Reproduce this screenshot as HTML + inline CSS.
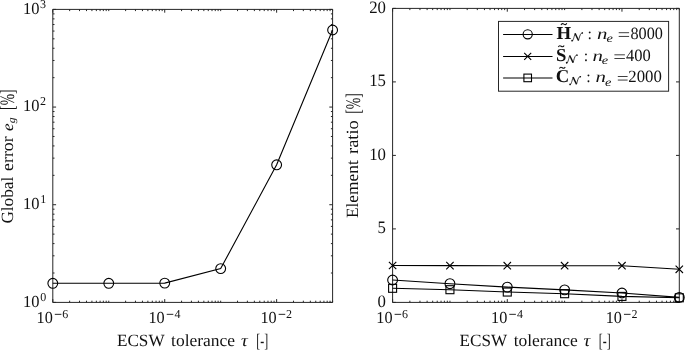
<!DOCTYPE html>
<html><head><meta charset="utf-8"><style>
html,body{margin:0;padding:0;background:#fff;}
body{width:685px;height:350px;overflow:hidden;}
svg{display:block;will-change:transform;}
svg text{font-family:"Liberation Serif",serif;text-rendering:geometricPrecision;}
</style></head><body>
<svg width="685" height="350" viewBox="0 0 685 350">
<rect width="685" height="350" fill="#fff"/>
<line x1="52.80" y1="9.40" x2="332.60" y2="9.40" stroke="#262626" stroke-width="1.0"/>
<line x1="52.80" y1="302.40" x2="332.60" y2="302.40" stroke="#262626" stroke-width="1.0"/>
<line x1="52.80" y1="9.40" x2="52.80" y2="302.40" stroke="#262626" stroke-width="1.0"/>
<line x1="332.60" y1="9.40" x2="332.60" y2="302.40" stroke="#262626" stroke-width="1.0"/>
<line x1="52.80" y1="302.40" x2="52.80" y2="299.10" stroke="#262626" stroke-width="1.0"/>
<line x1="52.80" y1="9.40" x2="52.80" y2="12.70" stroke="#262626" stroke-width="1.0"/>
<line x1="69.65" y1="302.40" x2="69.65" y2="300.70" stroke="#262626" stroke-width="1.0"/>
<line x1="69.65" y1="9.40" x2="69.65" y2="11.10" stroke="#262626" stroke-width="1.0"/>
<line x1="79.50" y1="302.40" x2="79.50" y2="300.70" stroke="#262626" stroke-width="1.0"/>
<line x1="79.50" y1="9.40" x2="79.50" y2="11.10" stroke="#262626" stroke-width="1.0"/>
<line x1="86.49" y1="302.40" x2="86.49" y2="300.70" stroke="#262626" stroke-width="1.0"/>
<line x1="86.49" y1="9.40" x2="86.49" y2="11.10" stroke="#262626" stroke-width="1.0"/>
<line x1="91.91" y1="302.40" x2="91.91" y2="300.70" stroke="#262626" stroke-width="1.0"/>
<line x1="91.91" y1="9.40" x2="91.91" y2="11.10" stroke="#262626" stroke-width="1.0"/>
<line x1="96.35" y1="302.40" x2="96.35" y2="300.70" stroke="#262626" stroke-width="1.0"/>
<line x1="96.35" y1="9.40" x2="96.35" y2="11.10" stroke="#262626" stroke-width="1.0"/>
<line x1="100.09" y1="302.40" x2="100.09" y2="300.70" stroke="#262626" stroke-width="1.0"/>
<line x1="100.09" y1="9.40" x2="100.09" y2="11.10" stroke="#262626" stroke-width="1.0"/>
<line x1="103.34" y1="302.40" x2="103.34" y2="300.70" stroke="#262626" stroke-width="1.0"/>
<line x1="103.34" y1="9.40" x2="103.34" y2="11.10" stroke="#262626" stroke-width="1.0"/>
<line x1="106.20" y1="302.40" x2="106.20" y2="300.70" stroke="#262626" stroke-width="1.0"/>
<line x1="106.20" y1="9.40" x2="106.20" y2="11.10" stroke="#262626" stroke-width="1.0"/>
<line x1="108.76" y1="302.40" x2="108.76" y2="300.70" stroke="#262626" stroke-width="1.0"/>
<line x1="108.76" y1="9.40" x2="108.76" y2="11.10" stroke="#262626" stroke-width="1.0"/>
<line x1="125.61" y1="302.40" x2="125.61" y2="300.70" stroke="#262626" stroke-width="1.0"/>
<line x1="125.61" y1="9.40" x2="125.61" y2="11.10" stroke="#262626" stroke-width="1.0"/>
<line x1="135.46" y1="302.40" x2="135.46" y2="300.70" stroke="#262626" stroke-width="1.0"/>
<line x1="135.46" y1="9.40" x2="135.46" y2="11.10" stroke="#262626" stroke-width="1.0"/>
<line x1="142.45" y1="302.40" x2="142.45" y2="300.70" stroke="#262626" stroke-width="1.0"/>
<line x1="142.45" y1="9.40" x2="142.45" y2="11.10" stroke="#262626" stroke-width="1.0"/>
<line x1="147.87" y1="302.40" x2="147.87" y2="300.70" stroke="#262626" stroke-width="1.0"/>
<line x1="147.87" y1="9.40" x2="147.87" y2="11.10" stroke="#262626" stroke-width="1.0"/>
<line x1="152.31" y1="302.40" x2="152.31" y2="300.70" stroke="#262626" stroke-width="1.0"/>
<line x1="152.31" y1="9.40" x2="152.31" y2="11.10" stroke="#262626" stroke-width="1.0"/>
<line x1="156.05" y1="302.40" x2="156.05" y2="300.70" stroke="#262626" stroke-width="1.0"/>
<line x1="156.05" y1="9.40" x2="156.05" y2="11.10" stroke="#262626" stroke-width="1.0"/>
<line x1="159.30" y1="302.40" x2="159.30" y2="300.70" stroke="#262626" stroke-width="1.0"/>
<line x1="159.30" y1="9.40" x2="159.30" y2="11.10" stroke="#262626" stroke-width="1.0"/>
<line x1="162.16" y1="302.40" x2="162.16" y2="300.70" stroke="#262626" stroke-width="1.0"/>
<line x1="162.16" y1="9.40" x2="162.16" y2="11.10" stroke="#262626" stroke-width="1.0"/>
<line x1="164.72" y1="302.40" x2="164.72" y2="299.10" stroke="#262626" stroke-width="1.0"/>
<line x1="164.72" y1="9.40" x2="164.72" y2="12.70" stroke="#262626" stroke-width="1.0"/>
<line x1="181.57" y1="302.40" x2="181.57" y2="300.70" stroke="#262626" stroke-width="1.0"/>
<line x1="181.57" y1="9.40" x2="181.57" y2="11.10" stroke="#262626" stroke-width="1.0"/>
<line x1="191.42" y1="302.40" x2="191.42" y2="300.70" stroke="#262626" stroke-width="1.0"/>
<line x1="191.42" y1="9.40" x2="191.42" y2="11.10" stroke="#262626" stroke-width="1.0"/>
<line x1="198.41" y1="302.40" x2="198.41" y2="300.70" stroke="#262626" stroke-width="1.0"/>
<line x1="198.41" y1="9.40" x2="198.41" y2="11.10" stroke="#262626" stroke-width="1.0"/>
<line x1="203.83" y1="302.40" x2="203.83" y2="300.70" stroke="#262626" stroke-width="1.0"/>
<line x1="203.83" y1="9.40" x2="203.83" y2="11.10" stroke="#262626" stroke-width="1.0"/>
<line x1="208.27" y1="302.40" x2="208.27" y2="300.70" stroke="#262626" stroke-width="1.0"/>
<line x1="208.27" y1="9.40" x2="208.27" y2="11.10" stroke="#262626" stroke-width="1.0"/>
<line x1="212.01" y1="302.40" x2="212.01" y2="300.70" stroke="#262626" stroke-width="1.0"/>
<line x1="212.01" y1="9.40" x2="212.01" y2="11.10" stroke="#262626" stroke-width="1.0"/>
<line x1="215.26" y1="302.40" x2="215.26" y2="300.70" stroke="#262626" stroke-width="1.0"/>
<line x1="215.26" y1="9.40" x2="215.26" y2="11.10" stroke="#262626" stroke-width="1.0"/>
<line x1="218.12" y1="302.40" x2="218.12" y2="300.70" stroke="#262626" stroke-width="1.0"/>
<line x1="218.12" y1="9.40" x2="218.12" y2="11.10" stroke="#262626" stroke-width="1.0"/>
<line x1="220.68" y1="302.40" x2="220.68" y2="300.70" stroke="#262626" stroke-width="1.0"/>
<line x1="220.68" y1="9.40" x2="220.68" y2="11.10" stroke="#262626" stroke-width="1.0"/>
<line x1="237.53" y1="302.40" x2="237.53" y2="300.70" stroke="#262626" stroke-width="1.0"/>
<line x1="237.53" y1="9.40" x2="237.53" y2="11.10" stroke="#262626" stroke-width="1.0"/>
<line x1="247.38" y1="302.40" x2="247.38" y2="300.70" stroke="#262626" stroke-width="1.0"/>
<line x1="247.38" y1="9.40" x2="247.38" y2="11.10" stroke="#262626" stroke-width="1.0"/>
<line x1="254.37" y1="302.40" x2="254.37" y2="300.70" stroke="#262626" stroke-width="1.0"/>
<line x1="254.37" y1="9.40" x2="254.37" y2="11.10" stroke="#262626" stroke-width="1.0"/>
<line x1="259.79" y1="302.40" x2="259.79" y2="300.70" stroke="#262626" stroke-width="1.0"/>
<line x1="259.79" y1="9.40" x2="259.79" y2="11.10" stroke="#262626" stroke-width="1.0"/>
<line x1="264.23" y1="302.40" x2="264.23" y2="300.70" stroke="#262626" stroke-width="1.0"/>
<line x1="264.23" y1="9.40" x2="264.23" y2="11.10" stroke="#262626" stroke-width="1.0"/>
<line x1="267.97" y1="302.40" x2="267.97" y2="300.70" stroke="#262626" stroke-width="1.0"/>
<line x1="267.97" y1="9.40" x2="267.97" y2="11.10" stroke="#262626" stroke-width="1.0"/>
<line x1="271.22" y1="302.40" x2="271.22" y2="300.70" stroke="#262626" stroke-width="1.0"/>
<line x1="271.22" y1="9.40" x2="271.22" y2="11.10" stroke="#262626" stroke-width="1.0"/>
<line x1="274.08" y1="302.40" x2="274.08" y2="300.70" stroke="#262626" stroke-width="1.0"/>
<line x1="274.08" y1="9.40" x2="274.08" y2="11.10" stroke="#262626" stroke-width="1.0"/>
<line x1="276.64" y1="302.40" x2="276.64" y2="299.10" stroke="#262626" stroke-width="1.0"/>
<line x1="276.64" y1="9.40" x2="276.64" y2="12.70" stroke="#262626" stroke-width="1.0"/>
<line x1="293.49" y1="302.40" x2="293.49" y2="300.70" stroke="#262626" stroke-width="1.0"/>
<line x1="293.49" y1="9.40" x2="293.49" y2="11.10" stroke="#262626" stroke-width="1.0"/>
<line x1="303.34" y1="302.40" x2="303.34" y2="300.70" stroke="#262626" stroke-width="1.0"/>
<line x1="303.34" y1="9.40" x2="303.34" y2="11.10" stroke="#262626" stroke-width="1.0"/>
<line x1="310.33" y1="302.40" x2="310.33" y2="300.70" stroke="#262626" stroke-width="1.0"/>
<line x1="310.33" y1="9.40" x2="310.33" y2="11.10" stroke="#262626" stroke-width="1.0"/>
<line x1="315.75" y1="302.40" x2="315.75" y2="300.70" stroke="#262626" stroke-width="1.0"/>
<line x1="315.75" y1="9.40" x2="315.75" y2="11.10" stroke="#262626" stroke-width="1.0"/>
<line x1="320.19" y1="302.40" x2="320.19" y2="300.70" stroke="#262626" stroke-width="1.0"/>
<line x1="320.19" y1="9.40" x2="320.19" y2="11.10" stroke="#262626" stroke-width="1.0"/>
<line x1="323.93" y1="302.40" x2="323.93" y2="300.70" stroke="#262626" stroke-width="1.0"/>
<line x1="323.93" y1="9.40" x2="323.93" y2="11.10" stroke="#262626" stroke-width="1.0"/>
<line x1="327.18" y1="302.40" x2="327.18" y2="300.70" stroke="#262626" stroke-width="1.0"/>
<line x1="327.18" y1="9.40" x2="327.18" y2="11.10" stroke="#262626" stroke-width="1.0"/>
<line x1="330.04" y1="302.40" x2="330.04" y2="300.70" stroke="#262626" stroke-width="1.0"/>
<line x1="330.04" y1="9.40" x2="330.04" y2="11.10" stroke="#262626" stroke-width="1.0"/>
<line x1="332.60" y1="302.40" x2="332.60" y2="300.70" stroke="#262626" stroke-width="1.0"/>
<line x1="332.60" y1="9.40" x2="332.60" y2="11.10" stroke="#262626" stroke-width="1.0"/>
<line x1="52.80" y1="302.40" x2="56.10" y2="302.40" stroke="#262626" stroke-width="1.0"/>
<line x1="332.60" y1="302.40" x2="329.30" y2="302.40" stroke="#262626" stroke-width="1.0"/>
<line x1="52.80" y1="273.00" x2="54.50" y2="273.00" stroke="#262626" stroke-width="1.0"/>
<line x1="332.60" y1="273.00" x2="330.90" y2="273.00" stroke="#262626" stroke-width="1.0"/>
<line x1="52.80" y1="255.80" x2="54.50" y2="255.80" stroke="#262626" stroke-width="1.0"/>
<line x1="332.60" y1="255.80" x2="330.90" y2="255.80" stroke="#262626" stroke-width="1.0"/>
<line x1="52.80" y1="243.60" x2="54.50" y2="243.60" stroke="#262626" stroke-width="1.0"/>
<line x1="332.60" y1="243.60" x2="330.90" y2="243.60" stroke="#262626" stroke-width="1.0"/>
<line x1="52.80" y1="234.13" x2="54.50" y2="234.13" stroke="#262626" stroke-width="1.0"/>
<line x1="332.60" y1="234.13" x2="330.90" y2="234.13" stroke="#262626" stroke-width="1.0"/>
<line x1="52.80" y1="226.40" x2="54.50" y2="226.40" stroke="#262626" stroke-width="1.0"/>
<line x1="332.60" y1="226.40" x2="330.90" y2="226.40" stroke="#262626" stroke-width="1.0"/>
<line x1="52.80" y1="219.86" x2="54.50" y2="219.86" stroke="#262626" stroke-width="1.0"/>
<line x1="332.60" y1="219.86" x2="330.90" y2="219.86" stroke="#262626" stroke-width="1.0"/>
<line x1="52.80" y1="214.20" x2="54.50" y2="214.20" stroke="#262626" stroke-width="1.0"/>
<line x1="332.60" y1="214.20" x2="330.90" y2="214.20" stroke="#262626" stroke-width="1.0"/>
<line x1="52.80" y1="209.20" x2="54.50" y2="209.20" stroke="#262626" stroke-width="1.0"/>
<line x1="332.60" y1="209.20" x2="330.90" y2="209.20" stroke="#262626" stroke-width="1.0"/>
<line x1="52.80" y1="204.73" x2="56.10" y2="204.73" stroke="#262626" stroke-width="1.0"/>
<line x1="332.60" y1="204.73" x2="329.30" y2="204.73" stroke="#262626" stroke-width="1.0"/>
<line x1="52.80" y1="175.33" x2="54.50" y2="175.33" stroke="#262626" stroke-width="1.0"/>
<line x1="332.60" y1="175.33" x2="330.90" y2="175.33" stroke="#262626" stroke-width="1.0"/>
<line x1="52.80" y1="158.13" x2="54.50" y2="158.13" stroke="#262626" stroke-width="1.0"/>
<line x1="332.60" y1="158.13" x2="330.90" y2="158.13" stroke="#262626" stroke-width="1.0"/>
<line x1="52.80" y1="145.93" x2="54.50" y2="145.93" stroke="#262626" stroke-width="1.0"/>
<line x1="332.60" y1="145.93" x2="330.90" y2="145.93" stroke="#262626" stroke-width="1.0"/>
<line x1="52.80" y1="136.47" x2="54.50" y2="136.47" stroke="#262626" stroke-width="1.0"/>
<line x1="332.60" y1="136.47" x2="330.90" y2="136.47" stroke="#262626" stroke-width="1.0"/>
<line x1="52.80" y1="128.73" x2="54.50" y2="128.73" stroke="#262626" stroke-width="1.0"/>
<line x1="332.60" y1="128.73" x2="330.90" y2="128.73" stroke="#262626" stroke-width="1.0"/>
<line x1="52.80" y1="122.20" x2="54.50" y2="122.20" stroke="#262626" stroke-width="1.0"/>
<line x1="332.60" y1="122.20" x2="330.90" y2="122.20" stroke="#262626" stroke-width="1.0"/>
<line x1="52.80" y1="116.53" x2="54.50" y2="116.53" stroke="#262626" stroke-width="1.0"/>
<line x1="332.60" y1="116.53" x2="330.90" y2="116.53" stroke="#262626" stroke-width="1.0"/>
<line x1="52.80" y1="111.54" x2="54.50" y2="111.54" stroke="#262626" stroke-width="1.0"/>
<line x1="332.60" y1="111.54" x2="330.90" y2="111.54" stroke="#262626" stroke-width="1.0"/>
<line x1="52.80" y1="107.07" x2="56.10" y2="107.07" stroke="#262626" stroke-width="1.0"/>
<line x1="332.60" y1="107.07" x2="329.30" y2="107.07" stroke="#262626" stroke-width="1.0"/>
<line x1="52.80" y1="77.67" x2="54.50" y2="77.67" stroke="#262626" stroke-width="1.0"/>
<line x1="332.60" y1="77.67" x2="330.90" y2="77.67" stroke="#262626" stroke-width="1.0"/>
<line x1="52.80" y1="60.47" x2="54.50" y2="60.47" stroke="#262626" stroke-width="1.0"/>
<line x1="332.60" y1="60.47" x2="330.90" y2="60.47" stroke="#262626" stroke-width="1.0"/>
<line x1="52.80" y1="48.27" x2="54.50" y2="48.27" stroke="#262626" stroke-width="1.0"/>
<line x1="332.60" y1="48.27" x2="330.90" y2="48.27" stroke="#262626" stroke-width="1.0"/>
<line x1="52.80" y1="38.80" x2="54.50" y2="38.80" stroke="#262626" stroke-width="1.0"/>
<line x1="332.60" y1="38.80" x2="330.90" y2="38.80" stroke="#262626" stroke-width="1.0"/>
<line x1="52.80" y1="31.07" x2="54.50" y2="31.07" stroke="#262626" stroke-width="1.0"/>
<line x1="332.60" y1="31.07" x2="330.90" y2="31.07" stroke="#262626" stroke-width="1.0"/>
<line x1="52.80" y1="24.53" x2="54.50" y2="24.53" stroke="#262626" stroke-width="1.0"/>
<line x1="332.60" y1="24.53" x2="330.90" y2="24.53" stroke="#262626" stroke-width="1.0"/>
<line x1="52.80" y1="18.86" x2="54.50" y2="18.86" stroke="#262626" stroke-width="1.0"/>
<line x1="332.60" y1="18.86" x2="330.90" y2="18.86" stroke="#262626" stroke-width="1.0"/>
<line x1="52.80" y1="13.87" x2="54.50" y2="13.87" stroke="#262626" stroke-width="1.0"/>
<line x1="332.60" y1="13.87" x2="330.90" y2="13.87" stroke="#262626" stroke-width="1.0"/>
<line x1="52.80" y1="9.40" x2="56.10" y2="9.40" stroke="#262626" stroke-width="1.0"/>
<line x1="332.60" y1="9.40" x2="329.30" y2="9.40" stroke="#262626" stroke-width="1.0"/>
<polyline points="52.80,283.30 108.76,283.30 164.72,283.10 220.68,268.60 276.64,164.80 332.60,30.00" fill="none" stroke="#000" stroke-width="1.1"/>
<circle cx="52.80" cy="283.30" r="4.9" fill="none" stroke="#000" stroke-width="1.1"/>
<circle cx="108.76" cy="283.30" r="4.9" fill="none" stroke="#000" stroke-width="1.1"/>
<circle cx="164.72" cy="283.10" r="4.9" fill="none" stroke="#000" stroke-width="1.1"/>
<circle cx="220.68" cy="268.60" r="4.9" fill="none" stroke="#000" stroke-width="1.1"/>
<circle cx="276.64" cy="164.80" r="4.9" fill="none" stroke="#000" stroke-width="1.1"/>
<circle cx="332.60" cy="30.00" r="4.9" fill="none" stroke="#000" stroke-width="1.1"/>
<line x1="392.60" y1="8.40" x2="679.30" y2="8.40" stroke="#262626" stroke-width="1.0"/>
<line x1="392.60" y1="302.40" x2="679.30" y2="302.40" stroke="#262626" stroke-width="1.0"/>
<line x1="392.60" y1="8.40" x2="392.60" y2="302.40" stroke="#262626" stroke-width="1.0"/>
<line x1="679.30" y1="8.40" x2="679.30" y2="302.40" stroke="#262626" stroke-width="1.0"/>
<line x1="392.60" y1="302.40" x2="392.60" y2="299.10" stroke="#262626" stroke-width="1.0"/>
<line x1="392.60" y1="8.40" x2="392.60" y2="11.70" stroke="#262626" stroke-width="1.0"/>
<line x1="409.86" y1="302.40" x2="409.86" y2="300.70" stroke="#262626" stroke-width="1.0"/>
<line x1="409.86" y1="8.40" x2="409.86" y2="10.10" stroke="#262626" stroke-width="1.0"/>
<line x1="419.96" y1="302.40" x2="419.96" y2="300.70" stroke="#262626" stroke-width="1.0"/>
<line x1="419.96" y1="8.40" x2="419.96" y2="10.10" stroke="#262626" stroke-width="1.0"/>
<line x1="427.12" y1="302.40" x2="427.12" y2="300.70" stroke="#262626" stroke-width="1.0"/>
<line x1="427.12" y1="8.40" x2="427.12" y2="10.10" stroke="#262626" stroke-width="1.0"/>
<line x1="432.68" y1="302.40" x2="432.68" y2="300.70" stroke="#262626" stroke-width="1.0"/>
<line x1="432.68" y1="8.40" x2="432.68" y2="10.10" stroke="#262626" stroke-width="1.0"/>
<line x1="437.22" y1="302.40" x2="437.22" y2="300.70" stroke="#262626" stroke-width="1.0"/>
<line x1="437.22" y1="8.40" x2="437.22" y2="10.10" stroke="#262626" stroke-width="1.0"/>
<line x1="441.06" y1="302.40" x2="441.06" y2="300.70" stroke="#262626" stroke-width="1.0"/>
<line x1="441.06" y1="8.40" x2="441.06" y2="10.10" stroke="#262626" stroke-width="1.0"/>
<line x1="444.38" y1="302.40" x2="444.38" y2="300.70" stroke="#262626" stroke-width="1.0"/>
<line x1="444.38" y1="8.40" x2="444.38" y2="10.10" stroke="#262626" stroke-width="1.0"/>
<line x1="447.32" y1="302.40" x2="447.32" y2="300.70" stroke="#262626" stroke-width="1.0"/>
<line x1="447.32" y1="8.40" x2="447.32" y2="10.10" stroke="#262626" stroke-width="1.0"/>
<line x1="449.94" y1="302.40" x2="449.94" y2="300.70" stroke="#262626" stroke-width="1.0"/>
<line x1="449.94" y1="8.40" x2="449.94" y2="10.10" stroke="#262626" stroke-width="1.0"/>
<line x1="467.20" y1="302.40" x2="467.20" y2="300.70" stroke="#262626" stroke-width="1.0"/>
<line x1="467.20" y1="8.40" x2="467.20" y2="10.10" stroke="#262626" stroke-width="1.0"/>
<line x1="477.30" y1="302.40" x2="477.30" y2="300.70" stroke="#262626" stroke-width="1.0"/>
<line x1="477.30" y1="8.40" x2="477.30" y2="10.10" stroke="#262626" stroke-width="1.0"/>
<line x1="484.46" y1="302.40" x2="484.46" y2="300.70" stroke="#262626" stroke-width="1.0"/>
<line x1="484.46" y1="8.40" x2="484.46" y2="10.10" stroke="#262626" stroke-width="1.0"/>
<line x1="490.02" y1="302.40" x2="490.02" y2="300.70" stroke="#262626" stroke-width="1.0"/>
<line x1="490.02" y1="8.40" x2="490.02" y2="10.10" stroke="#262626" stroke-width="1.0"/>
<line x1="494.56" y1="302.40" x2="494.56" y2="300.70" stroke="#262626" stroke-width="1.0"/>
<line x1="494.56" y1="8.40" x2="494.56" y2="10.10" stroke="#262626" stroke-width="1.0"/>
<line x1="498.40" y1="302.40" x2="498.40" y2="300.70" stroke="#262626" stroke-width="1.0"/>
<line x1="498.40" y1="8.40" x2="498.40" y2="10.10" stroke="#262626" stroke-width="1.0"/>
<line x1="501.72" y1="302.40" x2="501.72" y2="300.70" stroke="#262626" stroke-width="1.0"/>
<line x1="501.72" y1="8.40" x2="501.72" y2="10.10" stroke="#262626" stroke-width="1.0"/>
<line x1="504.66" y1="302.40" x2="504.66" y2="300.70" stroke="#262626" stroke-width="1.0"/>
<line x1="504.66" y1="8.40" x2="504.66" y2="10.10" stroke="#262626" stroke-width="1.0"/>
<line x1="507.28" y1="302.40" x2="507.28" y2="299.10" stroke="#262626" stroke-width="1.0"/>
<line x1="507.28" y1="8.40" x2="507.28" y2="11.70" stroke="#262626" stroke-width="1.0"/>
<line x1="524.54" y1="302.40" x2="524.54" y2="300.70" stroke="#262626" stroke-width="1.0"/>
<line x1="524.54" y1="8.40" x2="524.54" y2="10.10" stroke="#262626" stroke-width="1.0"/>
<line x1="534.64" y1="302.40" x2="534.64" y2="300.70" stroke="#262626" stroke-width="1.0"/>
<line x1="534.64" y1="8.40" x2="534.64" y2="10.10" stroke="#262626" stroke-width="1.0"/>
<line x1="541.80" y1="302.40" x2="541.80" y2="300.70" stroke="#262626" stroke-width="1.0"/>
<line x1="541.80" y1="8.40" x2="541.80" y2="10.10" stroke="#262626" stroke-width="1.0"/>
<line x1="547.36" y1="302.40" x2="547.36" y2="300.70" stroke="#262626" stroke-width="1.0"/>
<line x1="547.36" y1="8.40" x2="547.36" y2="10.10" stroke="#262626" stroke-width="1.0"/>
<line x1="551.90" y1="302.40" x2="551.90" y2="300.70" stroke="#262626" stroke-width="1.0"/>
<line x1="551.90" y1="8.40" x2="551.90" y2="10.10" stroke="#262626" stroke-width="1.0"/>
<line x1="555.74" y1="302.40" x2="555.74" y2="300.70" stroke="#262626" stroke-width="1.0"/>
<line x1="555.74" y1="8.40" x2="555.74" y2="10.10" stroke="#262626" stroke-width="1.0"/>
<line x1="559.06" y1="302.40" x2="559.06" y2="300.70" stroke="#262626" stroke-width="1.0"/>
<line x1="559.06" y1="8.40" x2="559.06" y2="10.10" stroke="#262626" stroke-width="1.0"/>
<line x1="562.00" y1="302.40" x2="562.00" y2="300.70" stroke="#262626" stroke-width="1.0"/>
<line x1="562.00" y1="8.40" x2="562.00" y2="10.10" stroke="#262626" stroke-width="1.0"/>
<line x1="564.62" y1="302.40" x2="564.62" y2="300.70" stroke="#262626" stroke-width="1.0"/>
<line x1="564.62" y1="8.40" x2="564.62" y2="10.10" stroke="#262626" stroke-width="1.0"/>
<line x1="581.88" y1="302.40" x2="581.88" y2="300.70" stroke="#262626" stroke-width="1.0"/>
<line x1="581.88" y1="8.40" x2="581.88" y2="10.10" stroke="#262626" stroke-width="1.0"/>
<line x1="591.98" y1="302.40" x2="591.98" y2="300.70" stroke="#262626" stroke-width="1.0"/>
<line x1="591.98" y1="8.40" x2="591.98" y2="10.10" stroke="#262626" stroke-width="1.0"/>
<line x1="599.14" y1="302.40" x2="599.14" y2="300.70" stroke="#262626" stroke-width="1.0"/>
<line x1="599.14" y1="8.40" x2="599.14" y2="10.10" stroke="#262626" stroke-width="1.0"/>
<line x1="604.70" y1="302.40" x2="604.70" y2="300.70" stroke="#262626" stroke-width="1.0"/>
<line x1="604.70" y1="8.40" x2="604.70" y2="10.10" stroke="#262626" stroke-width="1.0"/>
<line x1="609.24" y1="302.40" x2="609.24" y2="300.70" stroke="#262626" stroke-width="1.0"/>
<line x1="609.24" y1="8.40" x2="609.24" y2="10.10" stroke="#262626" stroke-width="1.0"/>
<line x1="613.08" y1="302.40" x2="613.08" y2="300.70" stroke="#262626" stroke-width="1.0"/>
<line x1="613.08" y1="8.40" x2="613.08" y2="10.10" stroke="#262626" stroke-width="1.0"/>
<line x1="616.40" y1="302.40" x2="616.40" y2="300.70" stroke="#262626" stroke-width="1.0"/>
<line x1="616.40" y1="8.40" x2="616.40" y2="10.10" stroke="#262626" stroke-width="1.0"/>
<line x1="619.34" y1="302.40" x2="619.34" y2="300.70" stroke="#262626" stroke-width="1.0"/>
<line x1="619.34" y1="8.40" x2="619.34" y2="10.10" stroke="#262626" stroke-width="1.0"/>
<line x1="621.96" y1="302.40" x2="621.96" y2="299.10" stroke="#262626" stroke-width="1.0"/>
<line x1="621.96" y1="8.40" x2="621.96" y2="11.70" stroke="#262626" stroke-width="1.0"/>
<line x1="639.22" y1="302.40" x2="639.22" y2="300.70" stroke="#262626" stroke-width="1.0"/>
<line x1="639.22" y1="8.40" x2="639.22" y2="10.10" stroke="#262626" stroke-width="1.0"/>
<line x1="649.32" y1="302.40" x2="649.32" y2="300.70" stroke="#262626" stroke-width="1.0"/>
<line x1="649.32" y1="8.40" x2="649.32" y2="10.10" stroke="#262626" stroke-width="1.0"/>
<line x1="656.48" y1="302.40" x2="656.48" y2="300.70" stroke="#262626" stroke-width="1.0"/>
<line x1="656.48" y1="8.40" x2="656.48" y2="10.10" stroke="#262626" stroke-width="1.0"/>
<line x1="662.04" y1="302.40" x2="662.04" y2="300.70" stroke="#262626" stroke-width="1.0"/>
<line x1="662.04" y1="8.40" x2="662.04" y2="10.10" stroke="#262626" stroke-width="1.0"/>
<line x1="666.58" y1="302.40" x2="666.58" y2="300.70" stroke="#262626" stroke-width="1.0"/>
<line x1="666.58" y1="8.40" x2="666.58" y2="10.10" stroke="#262626" stroke-width="1.0"/>
<line x1="670.42" y1="302.40" x2="670.42" y2="300.70" stroke="#262626" stroke-width="1.0"/>
<line x1="670.42" y1="8.40" x2="670.42" y2="10.10" stroke="#262626" stroke-width="1.0"/>
<line x1="673.74" y1="302.40" x2="673.74" y2="300.70" stroke="#262626" stroke-width="1.0"/>
<line x1="673.74" y1="8.40" x2="673.74" y2="10.10" stroke="#262626" stroke-width="1.0"/>
<line x1="676.68" y1="302.40" x2="676.68" y2="300.70" stroke="#262626" stroke-width="1.0"/>
<line x1="676.68" y1="8.40" x2="676.68" y2="10.10" stroke="#262626" stroke-width="1.0"/>
<line x1="679.30" y1="302.40" x2="679.30" y2="300.70" stroke="#262626" stroke-width="1.0"/>
<line x1="679.30" y1="8.40" x2="679.30" y2="10.10" stroke="#262626" stroke-width="1.0"/>
<line x1="392.60" y1="302.40" x2="395.90" y2="302.40" stroke="#262626" stroke-width="1.0"/>
<line x1="679.30" y1="302.40" x2="676.00" y2="302.40" stroke="#262626" stroke-width="1.0"/>
<line x1="392.60" y1="228.90" x2="395.90" y2="228.90" stroke="#262626" stroke-width="1.0"/>
<line x1="679.30" y1="228.90" x2="676.00" y2="228.90" stroke="#262626" stroke-width="1.0"/>
<line x1="392.60" y1="155.40" x2="395.90" y2="155.40" stroke="#262626" stroke-width="1.0"/>
<line x1="679.30" y1="155.40" x2="676.00" y2="155.40" stroke="#262626" stroke-width="1.0"/>
<line x1="392.60" y1="81.90" x2="395.90" y2="81.90" stroke="#262626" stroke-width="1.0"/>
<line x1="679.30" y1="81.90" x2="676.00" y2="81.90" stroke="#262626" stroke-width="1.0"/>
<line x1="392.60" y1="8.40" x2="395.90" y2="8.40" stroke="#262626" stroke-width="1.0"/>
<line x1="679.30" y1="8.40" x2="676.00" y2="8.40" stroke="#262626" stroke-width="1.0"/>
<polyline points="392.60,280.00 449.94,283.70 507.28,287.10 564.62,289.85 621.96,293.00 679.30,297.40" fill="none" stroke="#000" stroke-width="1.1"/>
<circle cx="392.60" cy="280.00" r="4.9" fill="none" stroke="#000" stroke-width="1.1"/>
<circle cx="449.94" cy="283.70" r="4.9" fill="none" stroke="#000" stroke-width="1.1"/>
<circle cx="507.28" cy="287.10" r="4.9" fill="none" stroke="#000" stroke-width="1.1"/>
<circle cx="564.62" cy="289.85" r="4.9" fill="none" stroke="#000" stroke-width="1.1"/>
<circle cx="621.96" cy="293.00" r="4.9" fill="none" stroke="#000" stroke-width="1.1"/>
<circle cx="679.30" cy="297.40" r="4.9" fill="none" stroke="#000" stroke-width="1.1"/>
<polyline points="392.60,265.50 449.94,265.60 507.28,265.70 564.62,265.70 621.96,265.70 679.30,269.30" fill="none" stroke="#000" stroke-width="1.1"/>
<path d="M388.90,261.80L396.30,269.20M388.90,269.20L396.30,261.80" stroke="#000" stroke-width="1.1"/>
<path d="M446.24,261.90L453.64,269.30M446.24,269.30L453.64,261.90" stroke="#000" stroke-width="1.1"/>
<path d="M503.58,262.00L510.98,269.40M503.58,269.40L510.98,262.00" stroke="#000" stroke-width="1.1"/>
<path d="M560.92,262.00L568.32,269.40M560.92,269.40L568.32,262.00" stroke="#000" stroke-width="1.1"/>
<path d="M618.26,262.00L625.66,269.40M618.26,269.40L625.66,262.00" stroke="#000" stroke-width="1.1"/>
<path d="M675.60,265.60L683.00,273.00M675.60,273.00L683.00,265.60" stroke="#000" stroke-width="1.1"/>
<polyline points="392.60,288.30 449.94,289.70 507.28,292.05 564.62,293.70 621.96,296.40 679.30,297.80" fill="none" stroke="#000" stroke-width="1.1"/>
<rect x="388.60" y="284.30" width="8.00" height="8.00" fill="none" stroke="#000" stroke-width="1.1"/>
<rect x="445.94" y="285.70" width="8.00" height="8.00" fill="none" stroke="#000" stroke-width="1.1"/>
<rect x="503.28" y="288.05" width="8.00" height="8.00" fill="none" stroke="#000" stroke-width="1.1"/>
<rect x="560.62" y="289.70" width="8.00" height="8.00" fill="none" stroke="#000" stroke-width="1.1"/>
<rect x="617.96" y="292.40" width="8.00" height="8.00" fill="none" stroke="#000" stroke-width="1.1"/>
<rect x="675.30" y="293.80" width="8.00" height="8.00" fill="none" stroke="#000" stroke-width="1.1"/>
<rect x="498.5" y="21.4" width="170.10" height="69.80" fill="#fff" stroke="#262626" stroke-width="1"/>
<line x1="503.10" y1="34.50" x2="552.50" y2="34.50" stroke="#000" stroke-width="1.1"/>
<line x1="503.10" y1="56.50" x2="552.50" y2="56.50" stroke="#000" stroke-width="1.1"/>
<line x1="503.10" y1="78.00" x2="552.50" y2="78.00" stroke="#000" stroke-width="1.1"/>
<circle cx="527.70" cy="34.30" r="4.6" fill="none" stroke="#000" stroke-width="1.1"/>
<path d="M524.20,52.80L531.20,59.80M524.20,59.80L531.20,52.80" stroke="#000" stroke-width="1.1"/>
<rect x="523.90" y="74.10" width="7.60" height="7.60" fill="none" stroke="#000" stroke-width="1.1"/>
<rect x="54.80" y="313.85" width="6.60" height="0.90" fill="#111"/>
<rect x="166.72" y="313.85" width="6.60" height="0.90" fill="#111"/>
<rect x="278.64" y="313.85" width="6.60" height="0.90" fill="#111"/>
<rect x="394.60" y="313.85" width="6.60" height="0.90" fill="#111"/>
<rect x="509.28" y="313.85" width="6.60" height="0.90" fill="#111"/>
<rect x="623.96" y="313.85" width="6.60" height="0.90" fill="#111"/>
<path d="M561.00,24.90 C562.00,23.10 563.00,23.50 563.90,24.10 C564.80,24.70 565.80,25.10 566.80,23.30" fill="none" stroke="#111" stroke-width="1.1"/>
<circle cx="572.10" cy="40.60" r="0.85" fill="#111"/>
<path d="M571.80,41.10 C573.20,41.20 573.80,37.60 575.10,33.40" fill="none" stroke="#111" stroke-width="0.75"/>
<path d="M575.10,33.40 L578.50,40.50" fill="none" stroke="#111" stroke-width="1.45"/>
<path d="M578.50,40.60 C579.30,37.40 580.20,34.20 581.20,33.40 C581.70,32.90 582.30,32.70 582.80,32.90" fill="none" stroke="#111" stroke-width="0.8"/>
<circle cx="582.40" cy="33.10" r="0.75" fill="#111"/>
<rect x="618.70" y="32.35" width="10.40" height="0.80" fill="#111"/>
<rect x="618.70" y="35.95" width="10.40" height="0.80" fill="#111"/>
<path d="M558.30,47.00 C559.30,45.20 560.30,45.60 561.20,46.20 C562.10,46.80 563.10,47.20 564.10,45.40" fill="none" stroke="#111" stroke-width="1.1"/>
<circle cx="566.70" cy="62.70" r="0.85" fill="#111"/>
<path d="M566.40,63.20 C567.80,63.30 568.40,59.70 569.70,55.50" fill="none" stroke="#111" stroke-width="0.75"/>
<path d="M569.70,55.50 L573.10,62.60" fill="none" stroke="#111" stroke-width="1.45"/>
<path d="M573.10,62.70 C573.90,59.50 574.80,56.30 575.80,55.50 C576.30,55.00 576.90,54.80 577.40,55.00" fill="none" stroke="#111" stroke-width="0.8"/>
<circle cx="577.00" cy="55.20" r="0.75" fill="#111"/>
<rect x="614.40" y="54.45" width="10.50" height="0.80" fill="#111"/>
<rect x="614.40" y="58.05" width="10.50" height="0.80" fill="#111"/>
<path d="M559.40,68.60 C560.40,66.80 561.40,67.20 562.30,67.80 C563.20,68.40 564.20,68.80 565.20,67.00" fill="none" stroke="#111" stroke-width="1.1"/>
<circle cx="570.10" cy="84.30" r="0.85" fill="#111"/>
<path d="M569.80,84.80 C571.20,84.90 571.80,81.30 573.10,77.10" fill="none" stroke="#111" stroke-width="0.75"/>
<path d="M573.10,77.10 L576.50,84.20" fill="none" stroke="#111" stroke-width="1.45"/>
<path d="M576.50,84.30 C577.30,81.10 578.20,77.90 579.20,77.10 C579.70,76.60 580.30,76.40 580.80,76.60" fill="none" stroke="#111" stroke-width="0.8"/>
<circle cx="580.40" cy="76.80" r="0.75" fill="#111"/>
<rect x="617.80" y="76.05" width="9.80" height="0.80" fill="#111"/>
<rect x="617.80" y="79.65" width="9.80" height="0.80" fill="#111"/>
<text transform="translate(23.05,13.70) scale(0.9807,1.0)" font-size="16.8" fill="#111">10</text>
<text transform="translate(40.03,7.70) scale(1.0000,1.0)" font-size="12.0" fill="#111">3</text>
<text transform="translate(23.05,111.37) scale(0.9807,1.0)" font-size="16.8" fill="#111">10</text>
<text transform="translate(40.07,105.37) scale(1.0000,1.0)" font-size="12.0" fill="#111">2</text>
<text transform="translate(23.05,209.03) scale(0.9807,1.0)" font-size="16.8" fill="#111">10</text>
<text transform="translate(40.25,203.03) scale(1.0000,1.0)" font-size="12.0" fill="#111">1</text>
<text transform="translate(23.05,306.70) scale(0.9807,1.0)" font-size="16.8" fill="#111">10</text>
<text transform="translate(40.14,300.70) scale(1.0000,1.0)" font-size="12.0" fill="#111">0</text>
<text transform="translate(36.57,322.80) scale(0.9671,1.0)" font-size="16.8" fill="#111">10</text>
<text transform="translate(62.28,317.60) scale(1.0000,1.0)" font-size="12.0" fill="#111">6</text>
<text transform="translate(148.49,322.80) scale(0.9671,1.0)" font-size="16.8" fill="#111">10</text>
<text transform="translate(174.49,317.60) scale(1.0000,1.0)" font-size="12.0" fill="#111">4</text>
<text transform="translate(260.41,322.80) scale(0.9671,1.0)" font-size="16.8" fill="#111">10</text>
<text transform="translate(286.11,317.60) scale(1.0000,1.0)" font-size="12.0" fill="#111">2</text>
<text transform="translate(376.37,322.80) scale(0.9671,1.0)" font-size="16.8" fill="#111">10</text>
<text transform="translate(402.08,317.60) scale(1.0000,1.0)" font-size="12.0" fill="#111">6</text>
<text transform="translate(491.05,322.80) scale(0.9671,1.0)" font-size="16.8" fill="#111">10</text>
<text transform="translate(517.05,317.60) scale(1.0000,1.0)" font-size="12.0" fill="#111">4</text>
<text transform="translate(605.73,322.80) scale(0.9671,1.0)" font-size="16.8" fill="#111">10</text>
<text transform="translate(631.43,317.60) scale(1.0000,1.0)" font-size="12.0" fill="#111">2</text>
<text transform="translate(377.54,306.60) scale(1.0000,1.04)" font-size="16.8" fill="#111">0</text>
<text transform="translate(377.56,233.10) scale(1.0000,1.04)" font-size="16.8" fill="#111">5</text>
<text transform="translate(369.14,159.60) scale(1.0000,1.04)" font-size="16.8" fill="#111">10</text>
<text transform="translate(369.16,86.10) scale(1.0000,1.04)" font-size="16.8" fill="#111">15</text>
<text transform="translate(369.14,12.60) scale(1.0000,1.04)" font-size="16.8" fill="#111">20</text>
<text transform="translate(117.01,345.50) scale(1.0693,1.07)" font-size="16" fill="#111">ECSW</text>
<text transform="translate(171.03,345.50) scale(1.0930,1.07)" font-size="16" fill="#111">tolerance</text>
<text transform="translate(240.99,345.50) scale(1.1776,1.07)" font-size="16" font-style="italic" fill="#111">τ</text>
<text transform="translate(256.22,347.00) scale(0.7421,1.2)" font-size="16" fill="#111">[-]</text>
<text transform="translate(459.61,345.50) scale(1.0693,1.07)" font-size="16" fill="#111">ECSW</text>
<text transform="translate(513.63,345.50) scale(1.0930,1.07)" font-size="16" fill="#111">tolerance</text>
<text transform="translate(583.59,345.50) scale(1.1776,1.07)" font-size="16" font-style="italic" fill="#111">τ</text>
<text transform="translate(598.82,347.00) scale(0.7421,1.2)" font-size="16" fill="#111">[-]</text>
<g transform="translate(13.00,222.90) rotate(-90)"><text transform="translate(-0.70,0.00) scale(1.0735,1.07)" font-size="16" fill="#111">Global</text>
<text transform="translate(52.01,0.00) scale(1.1082,1.07)" font-size="16" fill="#111">error</text>
<text transform="translate(91.98,0.00) scale(1.0560,1.0)" font-size="16" font-style="italic" fill="#111">e</text>
<text transform="translate(99.59,2.10) scale(1.0937,1.0)" font-size="10.5" font-style="italic" fill="#111">g</text>
<text transform="translate(112.99,1.00) scale(0.8515,1.28)" font-size="16" fill="#111">[%]</text></g>
<g transform="translate(358.20,217.60) rotate(-90)"><text transform="translate(-0.50,0.00) scale(1.0842,1.07)" font-size="16" fill="#111">Element</text>
<text transform="translate(63.63,0.00) scale(1.1518,1.07)" font-size="16" fill="#111">ratio</text>
<text transform="translate(103.88,1.90) scale(0.8607,1.3)" font-size="16" fill="#111">[%]</text></g>
<text transform="translate(556.58,38.60) scale(1.1759,1.14)" font-size="16" font-weight="bold" fill="#111">H</text>
<text transform="translate(587.43,38.60) scale(1.0000,1.0)" font-size="16" fill="#111">:</text>
<text transform="translate(596.96,38.60) scale(1.3007,1.0)" font-size="16" font-style="italic" fill="#111">n</text>
<text transform="translate(606.56,41.90) scale(1.2149,1.0)" font-size="11.8" font-style="italic" fill="#111">e</text>
<text transform="translate(630.48,38.60) scale(1.0136,1.07)" font-size="16" fill="#111">8000</text>
<text transform="translate(555.91,60.70) scale(1.1673,1.14)" font-size="16" font-weight="bold" fill="#111">S</text>
<text transform="translate(583.63,60.70) scale(1.0000,1.0)" font-size="16" fill="#111">:</text>
<text transform="translate(592.46,60.70) scale(1.3007,1.0)" font-size="16" font-style="italic" fill="#111">n</text>
<text transform="translate(601.86,64.00) scale(1.2149,1.0)" font-size="11.8" font-style="italic" fill="#111">e</text>
<text transform="translate(626.08,60.70) scale(1.0313,1.07)" font-size="16" fill="#111">400</text>
<text transform="translate(555.78,82.30) scale(1.1722,1.14)" font-size="16" font-weight="bold" fill="#111">C</text>
<text transform="translate(586.23,82.30) scale(1.0000,1.0)" font-size="16" fill="#111">:</text>
<text transform="translate(595.46,82.30) scale(1.3007,1.0)" font-size="16" font-style="italic" fill="#111">n</text>
<text transform="translate(604.96,85.60) scale(1.2149,1.0)" font-size="11.8" font-style="italic" fill="#111">e</text>
<text transform="translate(628.26,82.30) scale(1.0493,1.07)" font-size="16" fill="#111">2000</text>
</svg>
</body></html>
